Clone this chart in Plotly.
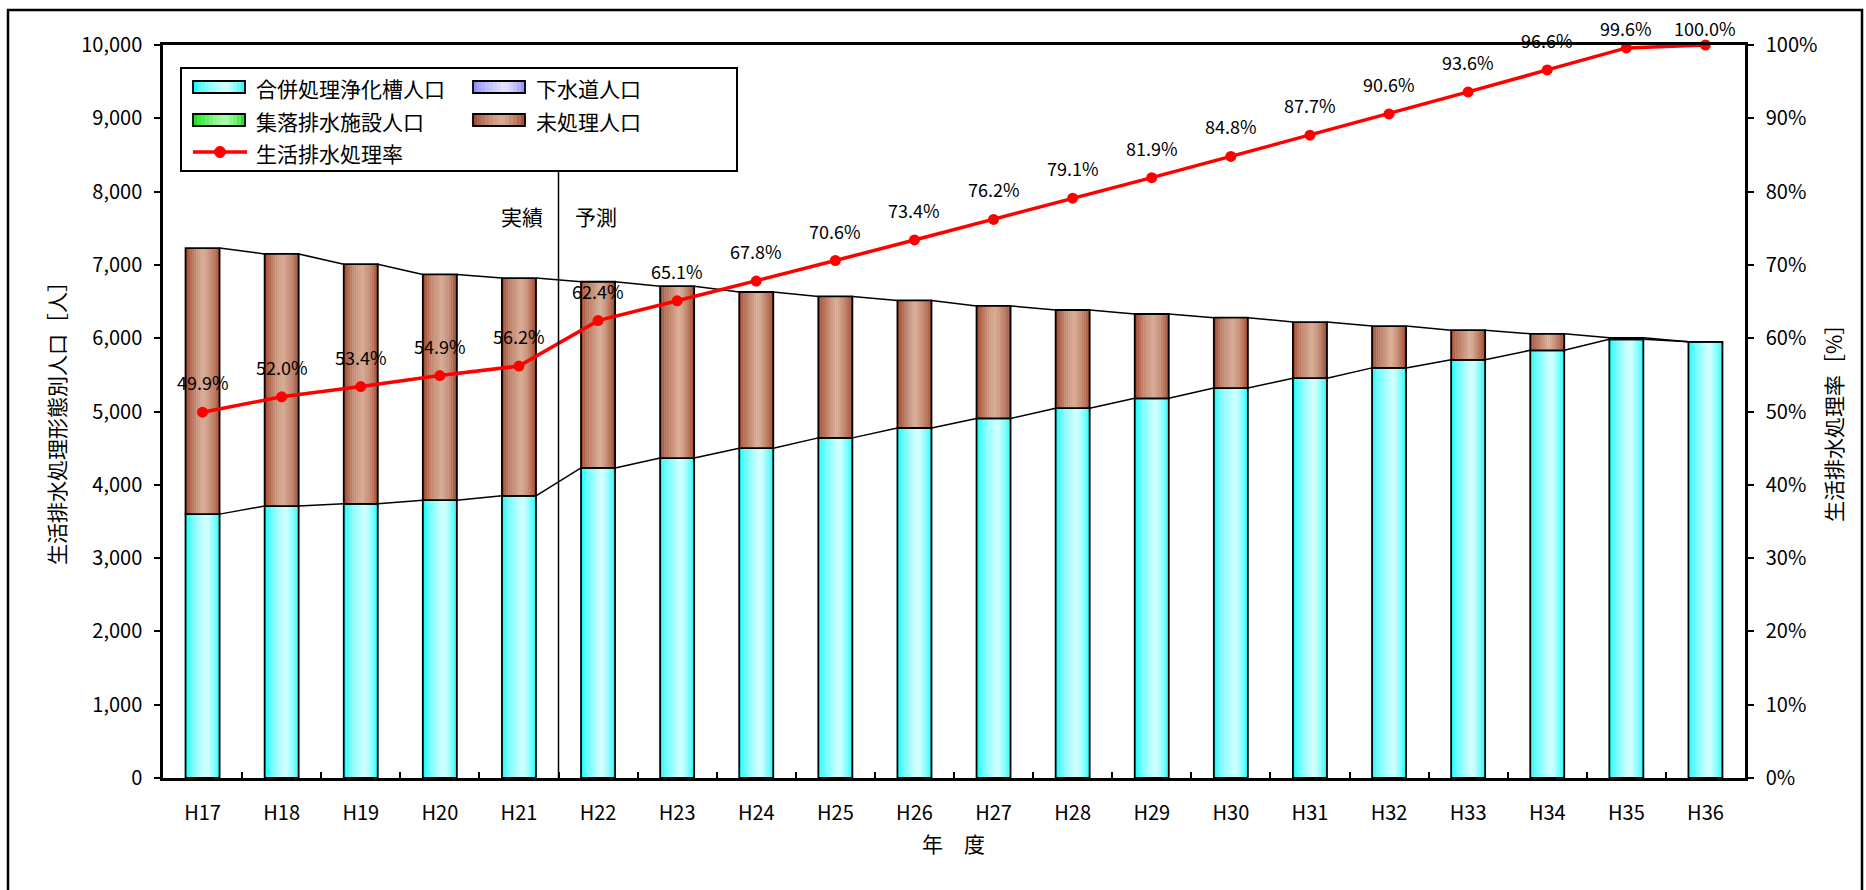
import plotly.graph_objects as go

# ---- data -------------------------------------------------------------
categories = ["H17", "H18", "H19", "H20", "H21", "H22", "H23", "H24", "H25", "H26",
              "H27", "H28", "H29", "H30", "H31", "H32", "H33", "H34", "H35", "H36"]

# population by treatment type (persons)
septic_pop = [3600, 3710, 3740, 3790, 3850, 4230, 4365, 4500, 4640, 4775,
              4905, 5045, 5180, 5320, 5455, 5595, 5705, 5835, 5985, 5950]
sewer_pop = [0, 0, 0, 0, 0, 0, 0, 0, 0, 0,
             0, 0, 0, 0, 0, 0, 0, 0, 0, 0]
rural_pop = [0, 0, 0, 0, 0, 0, 0, 0, 0, 0,
             0, 0, 0, 0, 0, 0, 0, 0, 0, 0]
untreated_pop = [3630, 3440, 3270, 3080, 2970, 2540, 2345, 2130, 1930, 1740,
                 1535, 1340, 1150, 960, 765, 570, 405, 225, 20, 0]

# domestic wastewater treatment rate (%)
treatment_rate = [49.9, 52.0, 53.4, 54.9, 56.2, 62.4, 65.1, 67.8, 70.6, 73.4,
                  76.2, 79.1, 81.9, 84.8, 87.7, 90.6, 93.6, 96.6, 99.6, 100.0]

y_ticks = list(range(0, 10001, 1000))
y2_ticks = list(range(0, 101, 10))
y2_ticktext = ["0%", "10%", "20%", "30%", "40%", "50%", "60%", "70%", "80%", "90%", "100%"]
forecast_start = "H22"

# ---- geometry ---------------------------------------------------------
W, H = 1866, 890
L, R, T, B = 163, 1745, 45, 778
PW, PH = R - L, B - T
FONT = "Noto Sans CJK JP"


def px(xp):
    return (xp - L) / PW


def py(yp):
    return (B - yp) / PH


def mix(c1, c2, w):
    return "rgb(%d,%d,%d)" % tuple(round(a + (b - a) * w) for a, b in zip(c1, c2))


def shade(edge, light, t, peak):
    w = t / peak if t <= peak else (1 - t) / (1 - peak)
    return mix(edge, light, max(0.0, min(1.0, w)) ** 0.6)


CYAN = ((0, 250, 250), (215, 255, 255), 0.62)
PURPLE = ((125, 125, 255), (228, 228, 255), 0.62)
GREEN = ((0, 215, 0), (175, 255, 175), 0.62)
BROWN = ((150, 55, 28), (216, 174, 152), 0.55)

pos = list(range(len(categories)))
bw = 0.43
n_strips = 16

base_sewer = [a for a in septic_pop]
base_rural = [a + b for a, b in zip(septic_pop, sewer_pop)]
base_untreated = [a + b + c for a, b, c in zip(septic_pop, sewer_pop, rural_pop)]
total_pop = [a + b for a, b in zip(base_untreated, untreated_pop)]

fig = go.Figure()

stack = [
    ("合併処理浄化槽人口", septic_pop, [0] * len(pos), CYAN),
    ("下水道人口", sewer_pop, base_sewer, PURPLE),
    ("集落排水施設人口", rural_pop, base_rural, GREEN),
    ("未処理人口", untreated_pop, base_untreated, BROWN),
]

# gradient-filled stacked bars: vertical strips, then a black outline
for name, vals, base, (edge, light, peak) in stack:
    if not any(vals):
        continue
    for k in range(n_strips):
        t = (k + 0.5) / n_strips
        fig.add_trace(go.Bar(
            x=pos, y=vals, base=base, name=name, showlegend=False,
            width=bw / n_strips + 0.004, offset=-bw / 2 + k * bw / n_strips,
            marker=dict(color=shade(edge, light, t, peak), line=dict(width=0)),
            hoverinfo="skip"))
    fig.add_trace(go.Bar(
        x=pos, y=vals, base=base, name=name, showlegend=False, width=bw,
        marker=dict(color="rgba(0,0,0,0)", line=dict(color="black", width=1.8)),
        hovertemplate=name + ": %{y:,}<extra></extra>"))

# series lines joining neighbouring bar tops
sx, sy = [], []
for tops in (septic_pop, total_pop):
    for i in range(len(pos) - 1):
        sx += [pos[i] + bw / 2, pos[i + 1] - bw / 2, None]
        sy += [tops[i], tops[i + 1], None]
fig.add_trace(go.Scatter(x=sx, y=sy, mode="lines", showlegend=False,
                         line=dict(color="black", width=1.5), hoverinfo="skip"))

# treatment rate on the secondary axis
fig.add_trace(go.Scatter(
    x=pos, y=treatment_rate, yaxis="y2", mode="lines+markers",
    name="生活排水処理率", showlegend=False, cliponaxis=False,
    line=dict(color="#ff0000", width=3.5),
    marker=dict(color="#ff0000", size=11)))

annotations = []
for i, r in zip(pos, treatment_rate):
    point_px = T + (100 - r) / 100 * PH
    annotations.append(dict(
        x=i, y=r, xref="x", yref="y2", text=f"{r:.1f}%", showarrow=False,
        yshift=min(30, point_px - 28), xanchor="center", yanchor="middle",
        font=dict(family=FONT, size=18, color="black")))

shapes = []
# outer chart frame
shapes.append(dict(type="rect", xref="paper", yref="paper",
                   x0=px(8), x1=px(1862), y0=py(900), y1=py(10),
                   line=dict(color="black", width=2.5), fillcolor="rgba(0,0,0,0)"))

# actual / forecast divider
split = categories.index(forecast_start) - 0.5
shapes.append(dict(type="line", xref="x", yref="paper", x0=split, x1=split,
                   y0=0, y1=py(171), line=dict(color="black", width=1.5)))
for txt, anchor, shift in (("実績", "right", -14), ("予測", "left", 14)):
    annotations.append(dict(x=split, y=py(216), xref="x", yref="paper", text=txt,
                            showarrow=False, xanchor=anchor, yanchor="middle",
                            xshift=shift, font=dict(family=FONT, size=21, color="black")))

# legend box
shapes.append(dict(type="rect", xref="paper", yref="paper",
                   x0=px(181), x1=px(737), y0=py(171), y1=py(68),
                   line=dict(color="black", width=2), fillcolor="white", layer="above"))

legend_items = [
    ("合併処理浄化槽人口", CYAN, 193, 87),
    ("下水道人口", PURPLE, 473, 87),
    ("集落排水施設人口", GREEN, 193, 120),
    ("未処理人口", BROWN, 473, 120),
]
sw_w, sw_h, sw_n = 52, 12, 13
for label, (edge, light, peak), x0, yc in legend_items:
    for k in range(sw_n):
        t = (k + 0.5) / sw_n
        shapes.append(dict(type="rect", xref="paper", yref="paper", layer="above",
                           x0=px(x0 + k * sw_w / sw_n), x1=px(x0 + (k + 1) * sw_w / sw_n + 0.6),
                           y0=py(yc + sw_h / 2), y1=py(yc - sw_h / 2),
                           line=dict(width=0), fillcolor=shade(edge, light, t, peak)))
    shapes.append(dict(type="rect", xref="paper", yref="paper", layer="above",
                       x0=px(x0), x1=px(x0 + sw_w), y0=py(yc + sw_h / 2), y1=py(yc - sw_h / 2),
                       line=dict(color="black", width=1.8), fillcolor="rgba(0,0,0,0)"))
    annotations.append(dict(x=px(x0 + 61), y=py(yc + 1), xref="paper", yref="paper",
                            text=label, showarrow=False, xanchor="left", yanchor="middle",
                            font=dict(family=FONT, size=21, color="black")))

# rate legend entry: line with a dot
shapes.append(dict(type="line", xref="paper", yref="paper", layer="above",
                   x0=px(193), x1=px(247), y0=py(152), y1=py(152),
                   line=dict(color="#ff0000", width=3.5)))
shapes.append(dict(type="circle", xref="paper", yref="paper", layer="above",
                   x0=px(220 - 5.5), x1=px(220 + 5.5), y0=py(152 + 5.5), y1=py(152 - 5.5),
                   line=dict(color="#ff0000", width=1), fillcolor="#ff0000"))
annotations.append(dict(x=px(254), y=py(153), xref="paper", yref="paper",
                        text="生活排水処理率", showarrow=False, xanchor="left",
                        yanchor="middle", font=dict(family=FONT, size=21, color="black")))

# axis titles
annotations.append(dict(x=px(56), y=py(418), xref="paper", yref="paper",
                        text="生活排水処理形態別人口［人］", textangle=-90, showarrow=False,
                        xanchor="center", yanchor="middle",
                        font=dict(family=FONT, size=21, color="black")))
annotations.append(dict(x=px(1833), y=py(418), xref="paper", yref="paper",
                        text="生活排水処理率［%］", textangle=-90, showarrow=False,
                        xanchor="center", yanchor="middle",
                        font=dict(family=FONT, size=21, color="black")))
annotations.append(dict(x=px(953), y=py(843), xref="paper", yref="paper",
                        text="年　度", showarrow=False, xanchor="center", yanchor="middle",
                        font=dict(family=FONT, size=21, color="black")))

fig.update_layout(
    width=W, height=H,
    margin=dict(l=L, r=W - R, t=T, b=H - B, pad=0),
    paper_bgcolor="white", plot_bgcolor="white",
    barmode="overlay", showlegend=False,
    font=dict(family=FONT, size=20, color="black"),
    xaxis=dict(range=[-0.5, len(pos) - 0.5], tickmode="array", tickvals=pos,
               ticktext=categories, ticks="", showline=True, linecolor="black",
               linewidth=2.5, mirror=True, showgrid=False, zeroline=False,
               ticklabelstandoff=15, tickfont=dict(family=FONT, size=20, color="black"),
               minor=dict(tickmode="array", tickvals=[p + 0.5 for p in pos[:-1]],
                          ticks="inside", ticklen=6, tickwidth=2, tickcolor="black",
                          showgrid=False)),
    yaxis=dict(range=[0, 10000], tickmode="array", tickvals=y_ticks, tickformat=",d",
               ticks="outside", ticklen=6, tickwidth=2, tickcolor="black",
               showline=True, linecolor="black", linewidth=2.5, showgrid=False,
               zeroline=False, ticklabelstandoff=8,
               tickfont=dict(family=FONT, size=20, color="black")),
    yaxis2=dict(range=[0, 100], overlaying="y", side="right", tickmode="array",
                tickvals=y2_ticks, ticktext=y2_ticktext, ticks="outside", ticklen=6,
                tickwidth=2, tickcolor="black", showline=True, linecolor="black",
                linewidth=2.5, showgrid=False, zeroline=False, ticklabelstandoff=8,
                tickfont=dict(family=FONT, size=20, color="black")),
    shapes=shapes,
    annotations=annotations,
)

fig.write_html("out.html")
